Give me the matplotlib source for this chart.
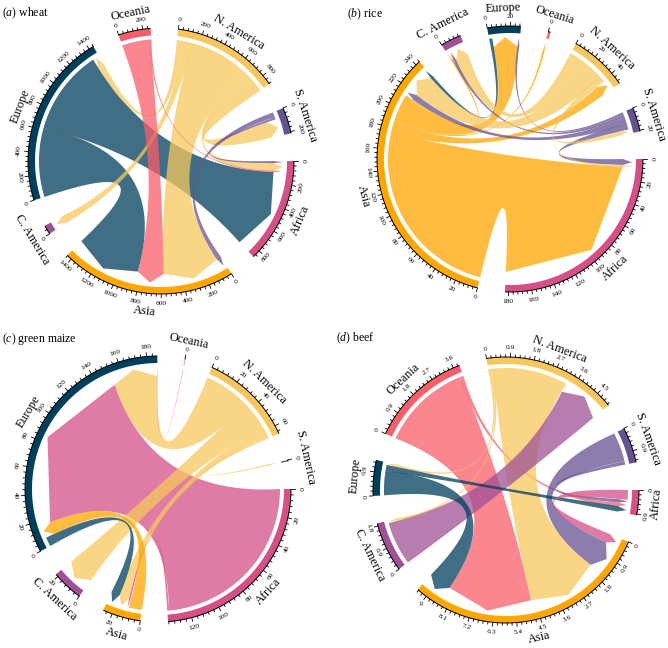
import numpy as np
import matplotlib
matplotlib.use('Agg')
import matplotlib.pyplot as plt
from matplotlib.patches import Polygon

plt.rcParams['font.family'] = ['Liberation Serif', 'DejaVu Serif']
plt.rcParams['mathtext.fontset'] = 'custom'
plt.rcParams['mathtext.rm'] = 'Liberation Serif'
plt.rcParams['mathtext.it'] = 'Liberation Serif:italic'

# ---------------- data ----------------
regions = ["Africa", "Asia", "C. America", "Europe", "Oceania", "N. America", "S. America"]
region_colors = ["#d45087", "#ffa600", "#a05195", "#003f5c", "#f95d6a", "#f7c75e", "#665191"]

wheat_src = ["Europe", "Europe", "N. America", "N. America", "N. America", "N. America", "N. America",
             "Oceania", "Oceania", "S. America", "S. America"]
wheat_tgt = ["Asia", "Africa", "Europe", "C. America", "Asia", "Africa", "S. America",
             "Asia", "Africa", "Asia", "Africa"]
wheat_val = [620, 760, 60, 75, 530, 70, 150, 250, 15, 45, 20]

rice_src = ["Asia", "Asia", "Asia", "Asia", "Asia", "S. America", "S. America", "S. America",
            "S. America", "Europe", "N. America", "N. America", "N. America", "N. America"]
rice_tgt = ["Africa", "N. America", "Oceania", "Europe", "C. America", "Africa", "Asia", "Europe",
            "C. America", "Asia", "Asia", "C. America", "S. America", "Africa"]
rice_val = [175, 10, 2, 24, 2, 6, 6, 2, 3, 3, 22, 13, 4, 2]

maize_src = ["Africa", "Africa", "N. America", "N. America", "N. America", "N. America",
             "Europe", "Asia", "Oceania"]
maize_tgt = ["Europe", "Asia", "Europe", "C. America", "Asia", "S. America",
             "Asia", "Europe", "Europe"]
maize_val = [135, 1.5, 35, 22, 8, 1, 7, 10, 0.4]

beef_src = ["Oceania", "Oceania", "N. America", "N. America", "N. America", "C. America",
            "S. America", "S. America", "Europe", "Europe", "Africa"]
beef_tgt = ["Asia", "Africa", "Europe", "C. America", "Asia", "N. America",
            "Asia", "Africa", "Asia", "Africa", "Asia"]
beef_val = [3.7, 0.15, 0.1, 0.1, 3.1, 1.8, 1.2, 0.15, 1.0, 0.25, 0.4]

panel_titles = ["wheat", "rice", "green maize", "beef"]
panel_letters = ["a", "b", "c", "d"]
tick_steps = [40, 4, 4, 0.18]

# ---------------- geometry / style ----------------
GAP = 12.0
R_OUT = 133.0
R_IN = 126.0
R_LINK = 122.0
HEAD = 9.0
CK = -0.15
ALPHA = 0.75


def polar(cx, cy, r, th):
    t = np.radians(th)
    return np.array([cx + r * np.cos(t), cy - r * np.sin(t)])


def arc(cx, cy, r, a0, a1, n=None):
    if n is None:
        n = max(2, int(abs(a1 - a0) * 2) + 2)
    return np.array([polar(cx, cy, r, t) for t in np.linspace(a0, a1, n)])


def bez(cx, cy, p0, p2, n=50):
    c0 = np.array([cx, cy])
    m = ((p0 - c0) + (p2 - c0)) / 2.0
    c = c0 + CK * m
    t = np.linspace(0, 1, n)[:, None]
    return (1 - t) ** 2 * p0 + 2 * (1 - t) * t * c + t ** 2 * p2


def rot_for(th):
    t = th % 360
    if t <= 180:
        return t - 90
    return (t + 90) - 360


def chord(ax, cx, cy, src, tgt, val, step, letter, title, tx, ty):
    n = len(regions)
    idx = {r: i for i, r in enumerate(regions)}
    S = [idx[s] for s in src]
    T = [idx[t] for t in tgt]
    tot = np.zeros(n)
    for s, t, v in zip(S, T, val):
        tot[s] += v
        tot[t] += v
    k = (360 - n * GAP) / tot.sum()
    starts = []
    a = 0.0
    for i in range(n):
        starts.append(a)
        a -= tot[i] * k + GAP
    src_ang, tgt_ang = {}, {}
    for i in range(n):
        pos = starts[i]
        order = [(i - d) % n for d in range(1, n)]
        for j in order:
            for f, (s, t, v) in enumerate(zip(S, T, val)):
                if s == i and t == j:
                    src_ang[f] = (pos, pos - v * k)
                    pos -= v * k
        for j in order:
            for f, (s, t, v) in enumerate(zip(S, T, val)):
                if t == i and s == j:
                    tgt_ang[f] = (pos, pos - v * k)
                    pos -= v * k

    # ribbons
    for f in range(len(val)):
        a0, a1 = src_ang[f]
        b0, b1 = tgt_ang[f]
        pts = [arc(cx, cy, R_LINK, a0, a1)]
        p_a1 = polar(cx, cy, R_LINK, a1)
        p_b0 = polar(cx, cy, R_LINK - HEAD, b0)
        pts.append(bez(cx, cy, p_a1, p_b0))
        pts.append(np.array([polar(cx, cy, R_LINK, (b0 + b1) / 2.0)]))
        p_b1 = polar(cx, cy, R_LINK - HEAD, b1)
        p_a0 = polar(cx, cy, R_LINK, a0)
        pts.append(np.array([p_b1]))
        pts.append(bez(cx, cy, p_b1, p_a0))
        poly = np.vstack(pts)
        ax.add_patch(Polygon(poly, closed=True, facecolor=region_colors[S[f]],
                             edgecolor='none', alpha=ALPHA, zorder=2))

    # sector bars, ticks, labels
    for i in range(n):
        if tot[i] <= 0:
            continue
        s0 = starts[i]
        s1 = s0 - tot[i] * k
        outer = arc(cx, cy, R_OUT, s0, s1)
        inner = arc(cx, cy, R_IN, s1, s0)
        ax.add_patch(Polygon(np.vstack([outer, inner]), closed=True,
                             facecolor=region_colors[i], edgecolor='none', zorder=3))
        base = arc(cx, cy, R_OUT, s0, s1)
        ax.plot(base[:, 0], base[:, 1], color='black', lw=0.7, zorder=4,
                solid_capstyle='butt')
        nt = int(np.floor(tot[i] / step + 1e-9))
        for m in range(nt + 1):
            u = m * step
            th = s0 - u * k
            major = (m % 5 == 0)
            L = 3.8 if major else 2.3
            p1 = polar(cx, cy, R_OUT, th)
            p2 = polar(cx, cy, R_OUT + L, th)
            ax.plot([p1[0], p2[0]], [p1[1], p2[1]], color='black', lw=0.6, zorder=4)
            if major:
                lab = '{:g}'.format(round(u, 6))
                pl = polar(cx, cy, R_OUT + 9.5, th)
                ax.text(pl[0], pl[1], lab, fontsize=5.3, rotation=rot_for(th),
                        ha='center', va='center', zorder=5,
                        rotation_mode='anchor')
        mid = (s0 + s1) / 2.0
        pn = polar(cx, cy, R_OUT + 18, mid)
        ax.text(pn[0], pn[1], regions[i], fontsize=8.8, rotation=rot_for(mid),
                ha='center', va='center', rotation_mode='anchor', zorder=5)

    ax.text(tx, ty, r'($\mathit{%s}$) %s' % (letter, title), fontsize=8.5,
            ha='left', va='center', zorder=6)


fig = plt.figure(figsize=(6.68, 6.48), dpi=100)
ax = fig.add_axes([0, 0, 1, 1])
ax.set_xlim(0, 668)
ax.set_ylim(648, 0)
ax.axis('off')

centers = [(161, 161), (510, 159), (158, 489), (506, 490)]
title_pos = [(2, 13), (347, 14), (2, 339), (336, 338)]
datasets = [(wheat_src, wheat_tgt, wheat_val), (rice_src, rice_tgt, rice_val),
            (maize_src, maize_tgt, maize_val), (beef_src, beef_tgt, beef_val)]

for p in range(4):
    s, t, v = datasets[p]
    chord(ax, centers[p][0], centers[p][1], s, t, v, tick_steps[p],
          panel_letters[p], panel_titles[p], title_pos[p][0], title_pos[p][1])

fig.savefig('out.png', dpi=100)
